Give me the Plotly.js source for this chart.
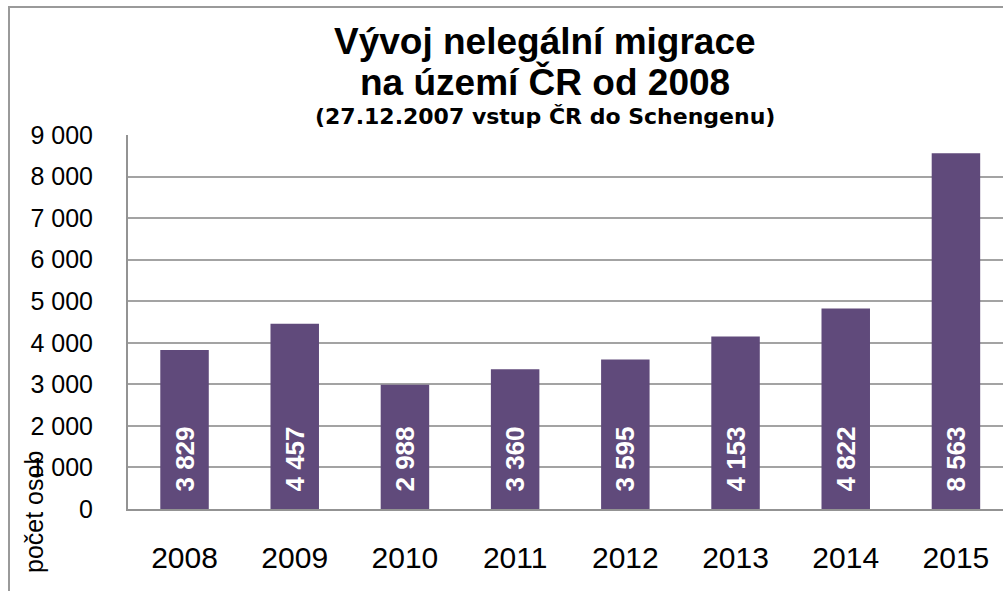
<!DOCTYPE html>
<html>
<head>
<meta charset="utf-8">
<script src="https://cdn.plot.ly/plotly-3.0.1.min.js"></script>
<style>
  html, body { margin:0; padding:0; width:1003px; height:591px; overflow:hidden; background:#fff; }
  #frame { position:absolute; left:8px; top:6px; width:1100px; height:700px; border:2px solid #9a9a9a; box-sizing:border-box; }
  #chart { position:absolute; left:0; top:0; width:1003px; height:591px; }
</style>
</head>
<body>
<div id="frame"></div>
<div id="chart"></div>
<script>
const years = ['2008','2009','2010','2011','2012','2013','2014','2015'];
const persons = [3829, 4457, 2988, 3360, 3595, 4153, 4822, 8563];
const yTicks = [0,1000,2000,3000,4000,5000,6000,7000,8000,9000];
const titleLine1 = 'Vývoj nelegální migrace';
const titleLine2 = 'na území ČR od 2008';
const subtitleText = '(27.12.2007 vstup ČR do Schengenu)';
const yLabel = 'počet osob';

const FONT = 'Liberation Sans, Arial, sans-serif';
const WIDE = 'DejaVu Sans, Verdana, sans-serif';

const trace = {
  type: 'bar',
  x: years,
  y: persons,
  marker: { color: '#604A7B', line: { width: 0 } },
  texttemplate: '<b>\u00a0\u00a0%{y:,d}</b>',
  textposition: 'inside',
  insidetextanchor: 'start',
  textangle: -90,
  constraintext: 'none',
  textfont: { family: FONT, size: 26, color: '#ffffff' },
  hoverinfo: 'none'
};

function titleAnn(text, y, size, family) {
  return {
    text: '<b>' + text + '</b>',
    xref: 'paper', yref: 'paper',
    x: 0.4766, y: y, xanchor: 'center', yanchor: 'middle',
    showarrow: false,
    font: { family: family, size: size, color: '#000' }
  };
}

const layout = {
  width: 1003,
  height: 591,
  margin: { l: 128, r: 0, t: 135, b: 82, pad: 0 },
  paper_bgcolor: 'rgba(0,0,0,0)',
  plot_bgcolor: '#ffffff',
  separators: ', ',
  showlegend: false,
  bargap: 0.56,
  font: { family: FONT, color: '#000' },
  xaxis: {
    type: 'category',
    range: [-0.513, 7.427],
    showgrid: false,
    showline: true, linecolor: '#939393', linewidth: 2,
    ticks: 'outside', ticklen: 21, tickcolor: 'rgba(0,0,0,0)',
    tickfont: { family: FONT, size: 30, color: '#000' },
    fixedrange: true
  },
  yaxis: {
    range: [0, 9000],
    tickvals: yTicks,
    tickformat: ',d',
    showgrid: true, gridcolor: '#a3a3a3', gridwidth: 2,
    zeroline: false,
    showline: true, linecolor: '#939393', linewidth: 2,
    ticks: 'outside', ticklen: 28, tickcolor: 'rgba(0,0,0,0)',
    tickfont: { family: FONT, size: 25, color: '#000' },
    fixedrange: true
  },
  annotations: [
    titleAnn(titleLine1, 1.250, 37, FONT),
    titleAnn(titleLine2, 1.143, 37, FONT),
    titleAnn(subtitleText, 1.0495, 22, WIDE),
    {
      text: yLabel,
      xref: 'paper', yref: 'paper',
      x: -0.1074, y: -0.008, xanchor: 'center', yanchor: 'middle',
      textangle: -90,
      showarrow: false,
      font: { family: FONT, size: 25, color: '#000' }
    }
  ]
};

Plotly.newPlot('chart', [trace], layout, { displayModeBar: false, staticPlot: true });
</script>
</body>
</html>
